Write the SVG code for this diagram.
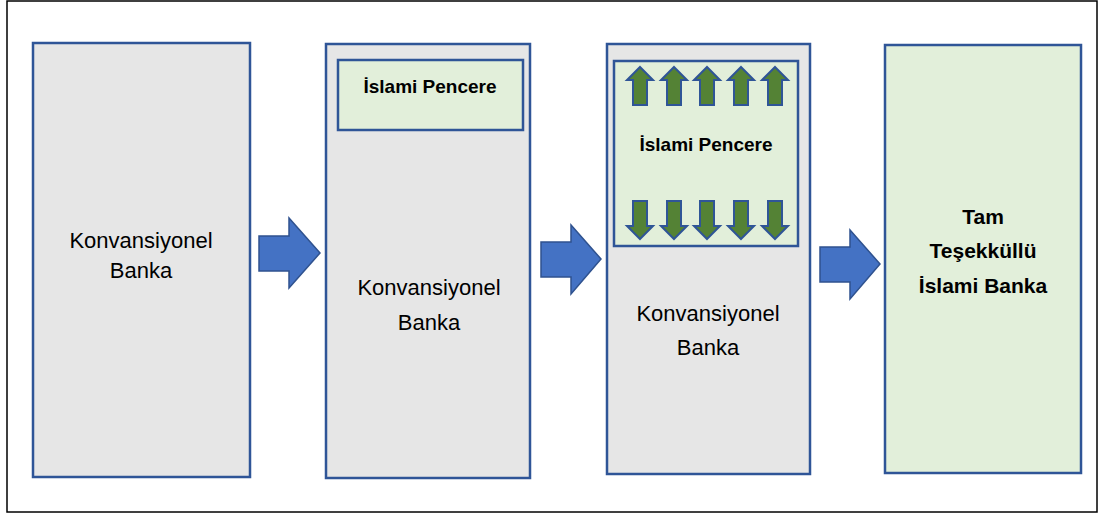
<svg xmlns="http://www.w3.org/2000/svg" width="1099" height="515" viewBox="0 0 1099 515">
<style>
.frame{fill:#ffffff;stroke:#000000;stroke-width:1.5}
.gray{fill:#e6e6e6;stroke:#2f5597;stroke-width:2.5}
.green{fill:#e2efda;stroke:#2f5597;stroke-width:2.5}
.flow{fill:#4472c4;stroke:#2f528f;stroke-width:1.5}
.ga{fill:#548235;stroke:#2f5597;stroke-width:2}
.t{font-family:"Liberation Sans",Arial,sans-serif;font-size:22px;fill:#000;text-anchor:middle}
.b{font-family:"Liberation Sans",Arial,sans-serif;font-weight:bold;fill:#000;text-anchor:middle}
</style>
<defs>
<path id="up" d="M0,-17 L13,-4 L7,-4 L7,21 L-7,21 L-7,-4 L-13,-4 Z"/>
<path id="down" d="M0,19 L13,6 L7,6 L7,-19 L-7,-19 L-7,6 L-13,6 Z"/>
</defs>
<rect class="frame" x="7" y="1" width="1090" height="511"/>
<g id="connectors">
<path class="flow" d="M259,236 L289,236 L289,218 L320,253 L289,288 L289,271 L259,271 Z"/>
<path class="flow" d="M541,242 L571,242 L571,225 L601,259 L571,294 L571,277 L541,277 Z"/>
<path class="flow" d="M820,247 L850,247 L850,230 L880,264 L850,299 L850,282 L820,282 Z"/>
</g>
<g id="node1">
<rect class="gray" x="33" y="43" width="217" height="434"/>
<text class="t" x="141" y="248">Konvansiyonel</text>
<text class="t" x="141" y="278">Banka</text>
</g>
<g id="node2">
<rect class="gray" x="326" y="44" width="204" height="434"/>
<g id="node2-window">
<rect class="green" x="338" y="60" width="185" height="70"/>
<text class="b" x="430" y="93" font-size="19">İslami Pencere</text>
</g>
<text class="t" x="429" y="295">Konvansiyonel</text>
<text class="t" x="429" y="330">Banka</text>
</g>
<g id="node3">
<rect class="gray" x="607" y="44" width="203" height="430"/>
<g id="node3-window">
<rect class="green" x="614" y="61" width="184" height="185"/>
<use href="#up" class="ga" x="640" y="84"/>
<use href="#up" class="ga" x="674" y="84"/>
<use href="#up" class="ga" x="707" y="84"/>
<use href="#up" class="ga" x="741" y="84"/>
<use href="#up" class="ga" x="775" y="84"/>
<text class="b" x="706" y="151" font-size="19">İslami Pencere</text>
<use href="#down" class="ga" x="640" y="220"/>
<use href="#down" class="ga" x="674" y="220"/>
<use href="#down" class="ga" x="707" y="220"/>
<use href="#down" class="ga" x="741" y="220"/>
<use href="#down" class="ga" x="775" y="220"/>
</g>
<text class="t" x="708" y="321">Konvansiyonel</text>
<text class="t" x="708" y="355">Banka</text>
</g>
<g id="node4">
<rect class="green" x="885" y="45" width="196" height="428"/>
<text class="b" x="983" y="224" font-size="21">Tam</text>
<text class="b" x="983" y="258" font-size="21">Teşekküllü</text>
<text class="b" x="983" y="293" font-size="21">İslami Banka</text>
</g>
</svg>
